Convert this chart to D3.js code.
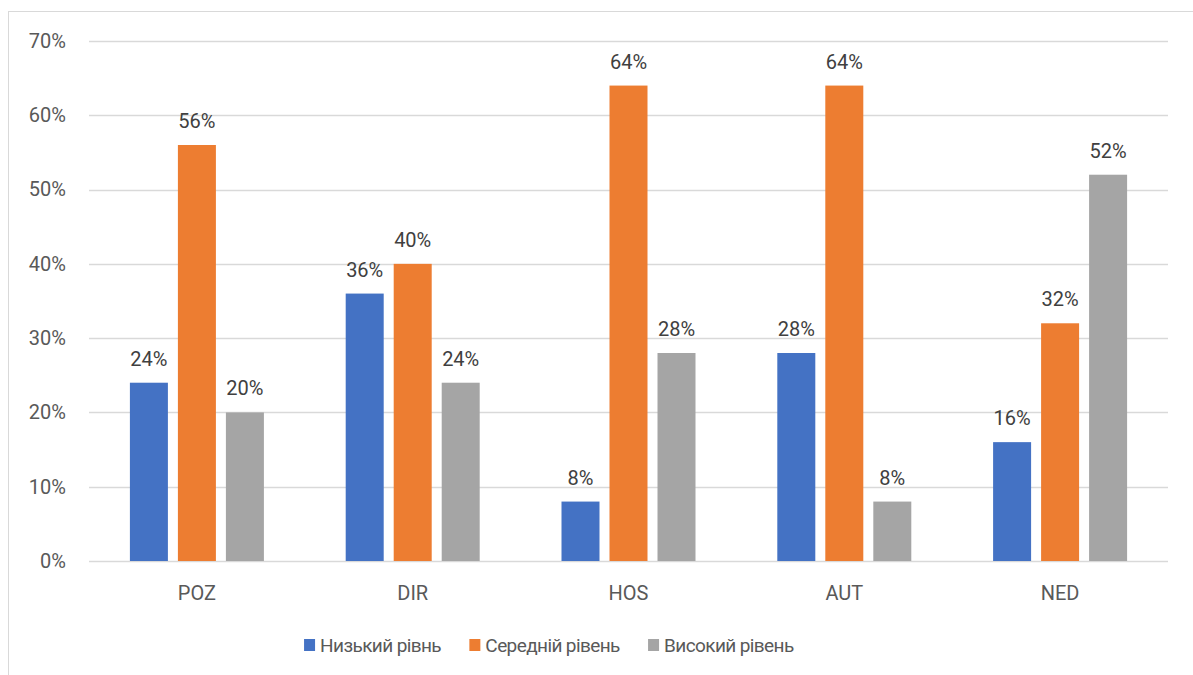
<!DOCTYPE html>
<html>
<head>
<meta charset="utf-8">
<script src="https://cdn.jsdelivr.net/npm/d3@7"></script>
<style>
    html, body { margin: 0; padding: 0; background: #fff; }
    svg { display: block; font-family: Roboto, "Open Sans", sans-serif; }
</style>
</head>
<body>
<svg id="chart" width="1193" height="675"></svg>
<script>
// data
const categories = ["POZ", "DIR", "HOS", "AUT", "NED"];
const seriesNames = ["Низький рівнь", "Середній рівень", "Високий рівень"];
const lowValues = [24, 36, 8, 28, 16];
const midValues = [56, 40, 64, 64, 32];
const highValues = [20, 24, 28, 8, 52];
const yTicks = [0, 10, 20, 30, 40, 50, 60, 70];

const colors = ["#4472C4", "#ED7D31", "#A5A5A5"];
const seriesValues = [lowValues, midValues, highValues];
const fontSize = "20px";

const svg = d3.select("#chart");

// chart frame (runs off the right / bottom edge, like the screenshot)
svg.append("rect")
    .attr("x", 8.5)
    .attr("y", 11.5)
    .attr("width", 1300)
    .attr("height", 800)
    .attr("fill", "none")
    .attr("stroke", "#d9d9d9")
    .attr("stroke-width", 1);

const margin = { left: 89, right: 1168, top: 41, bottom: 561 };

const x = d3.scaleBand()
    .domain(categories)
    .range([margin.left, margin.right])
    .paddingInner(0);

const groupWidth = 134;
const xSub = d3.scaleBand()
    .domain(d3.range(seriesNames.length))
    .range([0, groupWidth])
    .paddingInner(10 / 48);

const y = d3.scaleLinear()
    .domain([0, 70])
    .range([margin.bottom, margin.top]);

// gridlines
svg.append("g")
    .selectAll("line")
    .data(yTicks)
    .join("line")
    .attr("x1", margin.left)
    .attr("x2", margin.right)
    .attr("y1", d => Math.round(y(d)) + 0.5)
    .attr("y2", d => Math.round(y(d)) + 0.5)
    .attr("stroke", "#d9d9d9")
    .attr("stroke-width", 1.5);

// y axis labels
const yAxis = d3.axisLeft(y).tickValues(yTicks).tickFormat(d => d + "%").tickSize(0).tickPadding(0);
const yg = svg.append("g")
    .attr("transform", "translate(66,0)")
    .call(yAxis);
yg.select(".domain").remove();
yg.selectAll("text")
    .attr("fill", "#595959")
    .style("font-size", fontSize)
    .style("font-family", "Roboto, sans-serif");

// x axis labels
const xAxis = d3.axisBottom(x).tickSize(0).tickPadding(0);
const xg = svg.append("g")
    .attr("transform", "translate(0," + margin.bottom + ")")
    .call(xAxis);
xg.select(".domain").remove();
xg.selectAll("text")
    .attr("dy", null)
    .attr("y", 39)
    .attr("fill", "#595959")
    .style("font-size", fontSize)
    .style("font-family", "Roboto, sans-serif");

// bars
const rows = [];
categories.forEach((c, i) => {
    seriesValues.forEach((vals, s) => {
        rows.push({ cat: c, s: s, v: vals[i] });
    });
});

const offset = (x.bandwidth() - groupWidth) / 2;

svg.append("g")
    .selectAll("rect")
    .data(rows)
    .join("rect")
    .attr("x", d => x(d.cat) + offset + xSub(d.s))
    .attr("y", d => y(d.v))
    .attr("width", xSub.bandwidth())
    .attr("height", d => y(0) - y(d.v))
    .attr("fill", d => colors[d.s]);

// value labels
svg.append("g")
    .selectAll("text")
    .data(rows)
    .join("text")
    .attr("x", d => x(d.cat) + offset + xSub(d.s) + xSub.bandwidth() / 2)
    .attr("y", d => y(d.v) - 17)
    .attr("text-anchor", "middle")
    .attr("fill", "#404040")
    .style("font-size", fontSize)
    .text(d => d.v + "%");

// legend
const legend = svg.append("g").attr("transform", "translate(0,645)");
let cursor = 0;
const items = legend.selectAll("g")
    .data(seriesNames)
    .join("g");
items.append("rect")
    .attr("y", -6)
    .attr("width", 11)
    .attr("height", 12)
    .attr("fill", (d, i) => colors[i]);
items.append("text")
    .attr("x", 16)
    .attr("y", 7)
    .attr("fill", "#595959")
    .style("font-size", "19px")
    .style("letter-spacing", "-0.6px")
    .text(d => d);
items.each(function () {
    const w = this.getBBox().width;
    d3.select(this).attr("transform", "translate(" + cursor + ",0)");
    cursor += w + 28;
});
const legendWidth = cursor - 28;
legend.attr("transform", "translate(" + (549 - legendWidth / 2) + ",645)");
</script>
</body>
</html>
